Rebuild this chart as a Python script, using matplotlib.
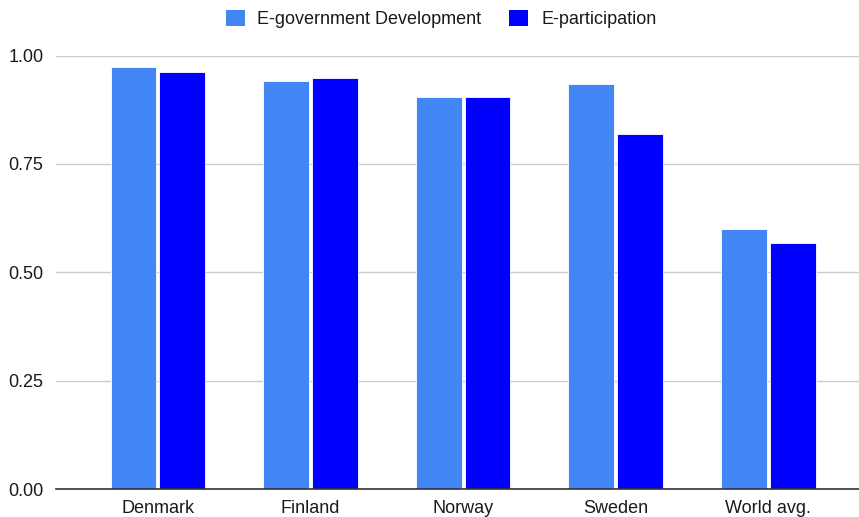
import matplotlib
matplotlib.use("Agg")
import matplotlib.pyplot as plt
import numpy as np

plt.rcParams['font.family'] = ['Liberation Sans', 'DejaVu Sans']

countries = ["Denmark", "Finland", "Norway", "Sweden", "World avg."]
egov_dev = [0.973, 0.942, 0.904, 0.935, 0.599]
e_participation = [0.963, 0.949, 0.904, 0.820, 0.567]
series_names = ["E-government Development", "E-participation"]
colors = ["#4285F4", "#0000FF"]
yticks = [0.0, 0.25, 0.5, 0.75, 1.0]

W, H = 859, 517
fig = plt.figure(figsize=(W / 100, H / 100), dpi=100)
ax_left, ax_right, ax_top, ax_bottom = 56, 859, 55.5, 489.3
ax = fig.add_axes([ax_left / W, (H - ax_bottom) / H,
                   (ax_right - ax_left) / W, (ax_bottom - ax_top) / H])

x = np.arange(len(countries))
width = 0.30
offset = 0.16
ax.bar(x - offset, egov_dev, width, color=colors[0], edgecolor="white",
       linewidth=0.6, label=series_names[0], zorder=3)
ax.bar(x + offset, e_participation, width, color=colors[1], edgecolor="white",
       linewidth=0.6, label=series_names[1], zorder=3)

ax.set_xlim(-0.668, 4.594)
ax.set_ylim(0, 1.0)
ax.set_yticks(yticks)
ax.set_yticklabels([f"{v:.2f}" for v in yticks])
ax.set_xticks(x)
ax.set_xticklabels(countries)
ax.tick_params(axis="both", length=0, labelsize=13, colors="#1a1a1a")
ax.tick_params(axis="x", pad=8)
ax.tick_params(axis="y", pad=9)

ax.grid(axis="y", color="#cccccc", linewidth=1, zorder=0)
for s in ["top", "right", "left"]:
    ax.spines[s].set_visible(False)
ax.spines["bottom"].set_color("#333333")
ax.spines["bottom"].set_linewidth(1.2)
ax.spines["bottom"].set_zorder(4)

leg = fig.legend(loc="center", bbox_to_anchor=(441 / W, 1 - 19 / H),
                 ncol=2, frameon=False, fontsize=13,
                 handlelength=1.05, handleheight=1.05, handletextpad=0.7,
                 columnspacing=1.55)
for h in leg.legend_handles:
    h.set_edgecolor("none")
for t in leg.get_texts():
    t.set_color("#1a1a1a")

fig.savefig("out.png", dpi=100)
